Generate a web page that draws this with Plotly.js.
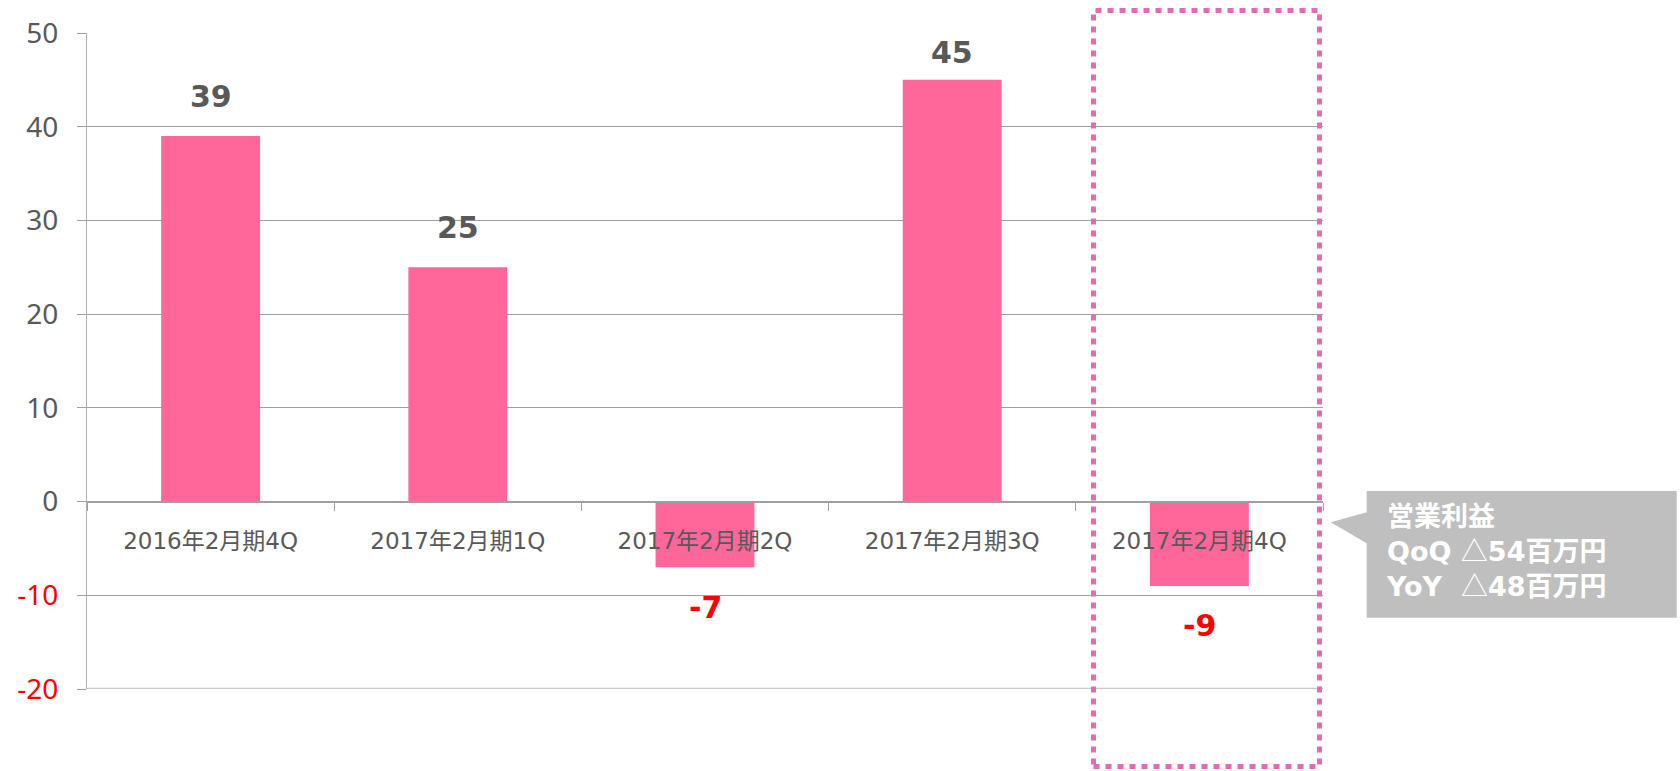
<!DOCTYPE html>
<html>
<head>
<meta charset="utf-8">
<script src="https://cdn.plot.ly/plotly-3.0.1.min.js"></script>
<style>
  html, body { margin: 0; padding: 0; background: #ffffff; }
  #chart { width: 1680px; height: 771px; }
</style>
</head>
<body>
<div id="chart"></div>
<script>
// ---- data ----
const categories = ["2016年2月期4Q", "2017年2月期1Q", "2017年2月期2Q", "2017年2月期3Q", "2017年2月期4Q"];
const values = [39, 25, -7, 45, -9];
const yTickVals = [-20, -10, 0, 10, 20, 30, 40, 50];
const calloutLines = ["営業利益", "QoQ △54百万円", "YoY  △48百万円"];

// ---- layout constants ----
const W = 1680, H = 771;
const M = { l: 87, r: 357, t: 33, b: 82 };
const plotW = W - M.l - M.r, plotH = H - M.t - M.b;
const yRange = [-20, 50];
const ppu = plotH / (yRange[1] - yRange[0]);
const px2paperX = px => (px - M.l) / plotW;
const px2paperY = py => (H - M.b - py) / plotH;

const grey = "#595959";
const red = "#FF0000";

const yTickText = yTickVals.map(v => v < 0 ? `<span style="color:${red}">${v}</span>` : String(v));

const trace = {
  type: "bar",
  x: categories,
  y: values,
  marker: { color: "#FF6699", line: { width: 0 } },
  hoverinfo: "skip"
};

// value labels
const annotations = values.map((v, i) => {
  let ly = v >= 0 ? v + 40 / ppu : v - 40 / ppu;
  ly = Math.min(ly, yRange[1] - 19 / ppu);
  return {
    x: categories[i], y: ly, xref: "x", yref: "y",
    text: String(v), showarrow: false, yanchor: "middle", xanchor: "center",
    font: { family: "DejaVu Sans, Noto Sans", size: 30, color: v < 0 ? red : grey, weight: "bold" }
  };
});

// callout text (triangle glyph drawn with the CJK font so it is full width)
const calloutHtml = calloutLines
  .map(s => "<b>" + s.replace(/△/g, '<span style="font-family:\'Noto Sans CJK JP\'; font-weight:normal">△</span>') + "</b>")
  .join("<br>");
annotations.push({
  xref: "paper", yref: "paper",
  x: px2paperX(1384), y: px2paperY(552),
  xanchor: "left", yanchor: "middle", align: "left",
  showarrow: false,
  text: calloutHtml,
  font: { family: "DejaVu Sans, Noto Sans CJK JP", size: 27, color: "#FFFFFF" }
});

// callout bubble
const bx0 = px2paperX(1366.7), bx1 = px2paperX(1676.7);
const by0 = px2paperY(491), by1 = px2paperY(617.7);
const tipX = px2paperX(1330.7), tipY = px2paperY(522.3);
const baseTop = px2paperY(512.3), baseBot = px2paperY(543.3);
const bubblePath = `M ${bx0},${by0} L ${bx1},${by0} L ${bx1},${by1} L ${bx0},${by1} L ${bx0},${baseBot} L ${tipX},${tipY} L ${bx0},${baseTop} Z`;

const shapes = [
  // bottom border line at axis minimum
  { type: "line", xref: "paper", yref: "y", x0: 0, x1: 1, y0: yRange[0], y1: yRange[0],
    line: { color: "#C8C8C8", width: 2.5 }, layer: "above" },
  // dotted highlight box around last quarter
  { type: "rect", xref: "paper", yref: "paper",
    x0: px2paperX(1093.5), x1: px2paperX(1319.5), y0: px2paperY(766.5), y1: px2paperY(10.5),
    line: { color: "#E46AB2", width: 5, dash: "6px,6px" }, fillcolor: "rgba(0,0,0,0)", layer: "above" },
  // callout
  { type: "path", xref: "paper", yref: "paper", path: bubblePath,
    fillcolor: "#BFBFBF", line: { width: 0 }, layer: "above" }
];

const layout = {
  width: W, height: H,
  margin: M,
  paper_bgcolor: "#FFFFFF", plot_bgcolor: "#FFFFFF",
  font: { family: "Noto Sans, Noto Sans CJK JP", color: grey },
  showlegend: false,
  bargap: 0.6,
  hovermode: false,
  xaxis: {
    type: "category",
    range: [-0.5, categories.length - 0.5],
    anchor: "free", position: (0 - yRange[0]) / (yRange[1] - yRange[0]),
    showline: true, linecolor: "#A0A0A0", linewidth: 1,
    ticks: "outside", tickson: "boundaries", ticklen: 8, tickcolor: "#A0A0A0", tickwidth: 1,
    showgrid: false, zeroline: false,
    tickfont: { family: "DejaVu Sans, Noto Sans CJK JP", size: 23, color: grey },
    ticklabelstandoff: 19,
    automargin: false, fixedrange: true
  },
  yaxis: {
    range: yRange,
    tickvals: yTickVals, ticktext: yTickText,
    showline: true, linecolor: "#B0B0B0", linewidth: 1,
    ticks: "outside", ticklen: 9, tickcolor: "#A0A0A0", tickwidth: 1,
    showgrid: true, gridcolor: "#A0A0A0", gridwidth: 1,
    zeroline: false,
    tickfont: { family: "Noto Sans", size: 28, color: grey },
    ticklabelstandoff: 13,
    automargin: false, fixedrange: true
  },
  annotations: annotations,
  shapes: shapes
};

Plotly.newPlot("chart", [trace], layout, { displayModeBar: false, staticPlot: true });
</script>
</body>
</html>
